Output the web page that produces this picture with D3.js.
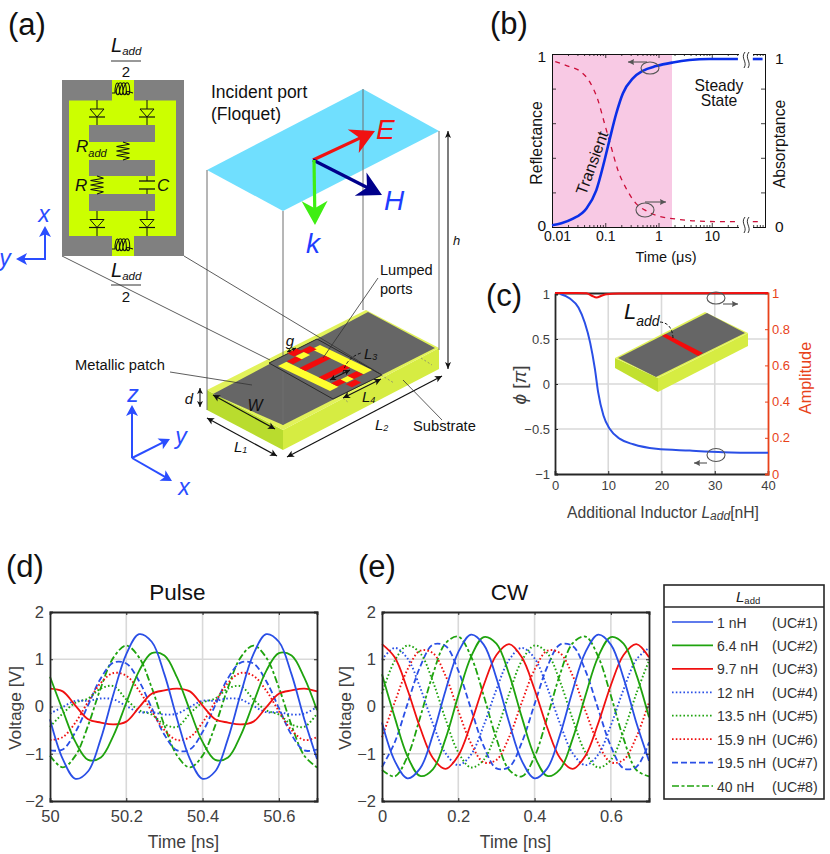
<!DOCTYPE html>
<html><head><meta charset="utf-8">
<script src="https://cdn.jsdelivr.net/npm/d3@7/dist/d3.min.js"></script>
<style>html,body{margin:0;padding:0;background:#fff}svg{display:block}text{font-family:"Liberation Sans",Arial,sans-serif}</style>
</head><body><svg id="c" width="830" height="854" viewBox="0 0 830 854"></svg>
<script>
// ---------- DATA ----------
const seriesNames=["1 nH","6.4 nH","9.7 nH","12 nH","13.5 nH","15.9 nH","19.5 nH","40 nH"];
const seriesCells=["(UC#1)","(UC#2)","(UC#3)","(UC#4)","(UC#5)","(UC#6)","(UC#7)","(UC#8)"];
const sampleIdx=[0,1,2,3,4,5,6,7,8,9,10,11,12,13,14,15,16,17,18,19,20,21]; // sample number, one per 1/30 ns
const pulse1=[-.27,-1.11,-1.53,-1.37,-.68,.27,1.11,1.53,1.37,.68,-.27,-1.11,-1.53,-1.37,-.68,.27,1.11,1.53,1.37,.68,-.27,-1.11];
const pulse2=[.63,-.08,-.75,-1.13,-1.08,-.61,.08,.75,1.13,1.08,.61,-.08,-.75,-1.13,-1.08,-.61,.08,.75,1.13,1.08,.61,-.08];
const pulse3=[.38,.32,.02,-.27,-.34,-.38,-.32,-.02,.27,.34,.38,.32,.02,-.27,-.34,-.38,-.32,-.02,.27,.34,.38,.32];
const pulse4=[-.15,-.01,.12,.12,.17,.15,.01,-.12,-.12,-.17,-.15,-.01,.12,.12,.17,.15,.01,-.12,-.12,-.17,-.15,-.01];
const pulse5=[-.43,-.15,.08,.17,.38,.43,.15,-.08,-.17,-.38,-.43,-.15,.08,.17,.38,.43,.15,-.08,-.17,-.38,-.43,-.15];
const pulse6=[-.71,-.65,-.34,.10,.50,.71,.65,.34,-.10,-.50,-.71,-.65,-.34,.10,.50,.71,.65,.34,-.10,-.50,-.71,-.65];
const pulse7=[-.93,-.91,-.54,.03,.60,.93,.91,.54,-.03,-.60,-.93,-.91,-.54,.03,.60,.93,.91,.54,-.03,-.60,-.93,-.91];
const pulse8=[-1.04,-1.29,-1.04,-.40,.40,1.04,1.29,1.04,.40,-.40,-1.04,-1.29,-1.04,-.40,.40,1.04,1.29,1.04,.40,-.40,-1.04,-1.29];
const cw1=[-.34,-1.15,-1.52,-1.31,-.60,.34,1.15,1.52,1.31,.60,-.34,-1.15,-1.52,-1.31,-.60,.34,1.15,1.52,1.31,.60,-.34,-1.15];
const cw2=[.68,-.23,-1.05,-1.47,-1.33,-.68,.23,1.05,1.47,1.33,.68,-.23,-1.05,-1.47,-1.33,-.68,.23,1.05,1.47,1.33,.68,-.23];
const cw3=[1.32,1.04,.36,-.45,-1.09,-1.32,-1.04,-.36,.45,1.09,1.32,1.04,.36,-.45,-1.09,-1.32,-1.04,-.36,.45,1.09,1.32,1.04];
const cw4=[.99,1.24,1.02,.40,-.36,-.99,-1.24,-1.02,-.40,.36,.99,1.24,1.02,.40,-.36,-.99,-1.24,-1.02,-.40,.36,.99,1.24];
const cw5=[.27,.97,1.29,1.13,.53,-.27,-.97,-1.29,-1.13,-.53,.27,.97,1.29,1.13,.53,-.27,-.97,-1.29,-1.13,-.53,.27,.97];
const cw6=[-.65,.09,.78,1.18,1.13,.65,-.09,-.78,-1.18,-1.13,-.65,.09,.78,1.18,1.13,.65,-.09,-.78,-1.18,-1.13,-.65,.09];
const cw7=[-1.28,-.76,.05,.84,1.31,1.28,.76,-.05,-.84,-1.31,-1.28,-.76,.05,.84,1.31,1.28,.76,-.05,-.84,-1.31,-1.28,-.76];
const cw8=[-1.34,-1.48,-1.06,-.23,.68,1.34,1.48,1.06,.23,-.68,-1.34,-1.48,-1.06,-.23,.68,1.34,1.48,1.06,.23,-.68,-1.34,-1.48];
const pulseSeries=[pulse1,pulse2,pulse3,pulse4,pulse5,pulse6,pulse7,pulse8];
const cwSeries=[cw1,cw2,cw3,cw4,cw5,cw6,cw7,cw8];
const seriesColors=["#2a4fe6","#1fa30e","#f01010","#2a4fe6","#1fa30e","#f01010","#2a4fe6","#1fa30e"];
const seriesDash=[null,null,null,"1.6 2.2","1.6 2.2","1.6 2.2","6 3","7 2.5 3 2.5"];

const phaseL=[1,2.8,4.4,5.6,6.6,7.5,8.1,9.1,10.3,12.2,14.7,19,25.3,31.6,40];
const phaseV=[1,.95,.85,.68,.46,.165,-.09,-.35,-.5,-.61,-.67,-.72,-.74,-.757,-.765];
const ampL=[0,4,5.9,6.9,7.8,8.75,9.7,12,20,40];
const ampV=[1,1,.998,.985,.975,.985,.993,.997,.999,1];

const reflT=[.01,.015,.0248,.044,.0678,.097,.12,.161,.214,.33,.508,.9,1.86,3.8,9,31];
const reflV=[.01,.022,.048,.106,.212,.386,.502,.656,.772,.859,.903,.93,.951,.965,.971,.971];
const absT=[.0115,.0214,.033,.0508,.0728,.097,.129,.173,.248,.38,.59,1.04,2.14,5.1,16,31];
const absV=[.956,.927,.903,.84,.734,.598,.463,.328,.222,.135,.093,.062,.046,.035,.031,.031];
const steadyT=[59,90];
const steadyRefl=[.971,.971];
const steadyAbs=[.031,.031];

const svg=d3.select("#c");
const FF='"Liberation Sans",Arial,sans-serif';
function txt(x,y,s,o={}){
  const t=svg.append("text").attr("x",x).attr("y",y).attr("font-size",o.size||14).attr("fill",o.fill||"#111")
    .attr("text-anchor",o.anchor||"start").attr("dominant-baseline",o.base||"central").text(s);
  if(o.italic)t.attr("font-style","italic");
  if(o.rot!=null)t.attr("transform",`rotate(${o.rot} ${x} ${y})`);
  return t;
}
function sub(x,y,main,s,o={}){ // italic letter with subscript
  const t=svg.append("text").attr("x",x).attr("y",y).attr("font-size",o.size||15).attr("fill",o.fill||"#111").attr("font-style","italic").attr("dominant-baseline","central");
  t.append("tspan").text(main);
  t.append("tspan").attr("dy",o.dy||4).attr("font-size",o.ssize||10).text(s);
  return t;
}
function poly(pts,fill,o={}){
  return svg.append("polygon").attr("points",pts.map(p=>p.join(",")).join(" ")).attr("fill",fill).attr("stroke",o.stroke||"none").attr("stroke-width",o.sw||0);
}
function seg(a,b,c,w,dash){
  const l=svg.append("line").attr("x1",a[0]).attr("y1",a[1]).attr("x2",b[0]).attr("y2",b[1]).attr("stroke",c).attr("stroke-width",w);
  if(dash)l.attr("stroke-dasharray",dash);return l;
}
function arrowHead(tip,from,c,len,wid,notch=.25){
  const dx=tip[0]-from[0],dy=tip[1]-from[1],d=Math.hypot(dx,dy),ux=dx/d,uy=dy/d;
  const bx=tip[0]-ux*len,by=tip[1]-uy*len;
  poly([tip,[bx-uy*wid/2,by+ux*wid/2],[tip[0]-ux*len*(1-notch),tip[1]-uy*len*(1-notch)],[bx+uy*wid/2,by-ux*wid/2]],c);
}
function arrow(a,b,c,w,len,wid,notch){
  const dx=b[0]-a[0],dy=b[1]-a[1],d=Math.hypot(dx,dy);
  seg(a,[b[0]-dx/d*len*.6,b[1]-dy/d*len*.6],c,w);
  arrowHead(b,a,c,len,wid,notch);
}
function dbl(a,b,c="#111",w=1.2,len=7,wid=7){
  seg(a,b,c,w);arrowHead(a,b,c,len,wid);arrowHead(b,a,c,len,wid);
}
function pth(d,c,w,fill="none"){return svg.append("path").attr("d",d).attr("stroke",c).attr("stroke-width",w).attr("fill",fill);}

// ---------- PANEL (a) ----------
txt(8,24,"(a)",{size:31});txt(490,23,"(b)",{size:31});txt(486,295,"(c)",{size:31});txt(6,566,"(d)",{size:31});txt(358,566,"(e)",{size:31});

// Floquet port plane
const vLines=[[207,170,410],[283,211,425],[363,89,310],[439,131,350]];
poly([[207,170],[363,89],[439,131],[283,211]],"#70dffe");
// substrate
poly([[207,390],[283,430],[283,450],[207,410]],"#b9dc2e");
poly([[283,430],[439,348],[439,369],[283,450]],"#d6ec42");
poly([[207,390],[366,310],[439,348],[283,430]],"#e2f25a");
poly([[213,394],[368,312],[435,348],[283,425]],"#666666");
vLines.forEach(v=>seg([v[0],v[1]],[v[0],v[2]],"#6e6e6e",1));

// slot region with unit-cell detail
const P=(u,v)=>[278+42*u+52*v,366-21*u+25*v];
const R=(u0,u1,v0,v1,f)=>poly([P(u0,v0),P(u1,v0),P(u1,v1),P(u0,v1)],f);
poly([[269,363],[317,339],[382,375],[333,399]],"#666",{stroke:"#2a2a2a",sw:1});
R(0,1,0,1,"#ffff2e");
R(.2,.8,-.02,1.02,"#666");
[[.25,.37],[.62,.74]].forEach(b=>R(.2,.8,b[0],b[1],"#f40b0b"));
[[.42,.64,-.16,-.03,"#f40b0b"],[.62,.86,-.08,.05,"#f40b0b"],[.22,.46,-.01,.11,"#f40b0b"],[.44,.64,-.02,.1,"#ffff2e"],
 [.2,.42,.86,.98,"#f40b0b"],[.4,.58,.88,1,"#ffff2e"],[.35,.57,1.02,1.14,"#f40b0b"],[.57,.79,.87,1,"#f40b0b"]]
 .forEach(r=>R(r[0],r[1],r[2],r[3],r[4]));

// arrows above
arrow([313,160],[375,131],"#f01212",3.2,24,26,.3);
arrow([313,160],[382,195],"#00008b",3.2,24,26,.3);
arrow([314,160],[315,225],"#3fee12",3.2,24,26,.3);
txt(376,129,"E",{size:28,italic:true,fill:"#f01212"});
txt(384,200,"H",{size:28,italic:true,fill:"#1f3dff"});
txt(306,243,"k",{size:28,italic:true,fill:"#1f3dff"});
txt(211,92,"Incident port",{size:17.5});txt(211,114,"(Floquet)",{size:17.5});

// connection lines
seg([62,256],[270,360],"#333",.8);seg([184,256],[382,375],"#333",.8);

// schematic
svg.append("rect").attr("x",62).attr("y",80).attr("width",122).attr("height",176).attr("fill","#808080");
svg.append("rect").attr("x",69).attr("y",100.5).attr("width",107).attr("height",135.5).attr("fill","#ccff00");
svg.append("rect").attr("x",112).attr("y",80).attr("width",22).attr("height",21).attr("fill","#ccff00");
svg.append("rect").attr("x",112).attr("y",235).attr("width",22).attr("height",21).attr("fill","#ccff00");
[[125,142],[160,176],[194,211]].forEach(b=>svg.append("rect").attr("x",89).attr("y",b[0]).attr("width",66).attr("height",b[1]-b[0]).attr("fill","#808080"));
function diode(x,y0,y1,tt){ // vertical wire with diode pointing down
  seg([x,y0],[x,y1],"#111",1);
  pth(`M${x-7},${tt}L${x+7},${tt}L${x},${tt+8}Z`,"#111",1,"#ccff00");
  seg([x-8,tt+8],[x+8,tt+8],"#111",1.2);
}
diode(97,100,125,109);diode(147,100,125,109);diode(97,211,236,219.5);diode(147,211,236,219.5);
function inductor(y){
  let d=`M112,${y+3}L115,${y+3}`;
  for(let i=0;i<4;i++){const x=115+i*3.4;d+=`C${x},${y-10} ${x+4.5},${y-10} ${x+4.5},${y+1}C${x+4.5},${y+6} ${x+1.2},${y+6} ${x+1.2},${y+1}`;}
  d+=`L133,${y+3}`;pth(d,"#111",1.1);
}
inductor(90);inductor(246);
function zig(x,y0,y1,w){
  const n=8,h=(y1-y0)/n;let d=`M${x},${y0}`;
  for(let i=1;i<n;i++)d+=`L${x+(i%2?w:-w)},${y0+i*h}`;
  d+=`L${x},${y1}`;pth(d,"#111",1.1);
}
zig(123,142,160,6.5);zig(97,176,194,6.5);
seg([147,176],[147,181],"#111",1);seg([147,189],[147,194],"#111",1);
seg([139,181],[155,181],"#111",1.3);seg([139,189],[155,189],"#111",1.3);
sub(76,146,"R","add",{size:17,ssize:11,dy:7});
txt(75,185,"R",{size:17,italic:true});txt(157,185,"C",{size:17,italic:true});
function frac(yL,yBar,y2){
  sub(111,yL,"L","add",{size:20,ssize:11.5,dy:6});seg([111,yBar],[141,yBar],"#333",1);txt(126,y2,"2",{size:15,anchor:"middle"});
}
frac(45,61,71);frac(270,285,296);

// axes triads
const triad="#2a4dff";
arrow([45,259],[45,226],triad,2,11,12,.25);arrow([46,259],[16,259],triad,2,11,12,.25);
txt(44,214,"x",{size:23,italic:true,fill:triad,anchor:"middle"});txt(5,258,"y",{size:23,italic:true,fill:triad,anchor:"middle"});
arrow([132,458],[132,405],triad,2,11,12,.25);arrow([132,458],[170,439],triad,2,11,12,.25);arrow([132,458],[172,481],triad,2,11,12,.25);
txt(133,394,"z",{size:23,italic:true,fill:triad,anchor:"middle"});txt(181,436,"y",{size:23,italic:true,fill:triad,anchor:"middle"});txt(184,487,"x",{size:23,italic:true,fill:triad,anchor:"middle"});

// dimensions
dbl([448,131],[448,369],"#111",1.1,7,6);txt(453,240,"h",{size:13,italic:true});
dbl([200,388],[200,407],"#111",1.1,6,6);txt(189,398,"d",{size:15,italic:true,anchor:"middle"});
dbl([213,395],[275,429],"#111",1.2);txt(255,405,"W",{size:16,italic:true,anchor:"middle"});
dbl([207,418],[277,456],"#111",1.2);sub(234,446,"L","1",{size:15,ssize:9});
dbl([287,457],[442,376],"#111",1.2);sub(375,424,"L","2",{size:15,ssize:9});
dbl([343,398],[381,379],"#111",1.2);sub(362,396,"L","4",{size:15,ssize:9});
dbl([330,380],[350,370],"#111",1.2,6,6);sub(364,353,"L","3",{size:15,ssize:9});
pth("M343,373Q346,358 361,353","#111",1).attr("stroke-dasharray","3 2");
dbl([287,352],[296,348],"#111",1,4,4);txt(290,340,"g",{size:15,italic:true,anchor:"middle"});
seg([343,398],[349,403],"#777",.7,"2 2");seg([381,375],[394,383],"#777",.7,"2 2");
seg([421,358],[432,365],"#777",.7,"2 2");
// callouts
txt(75,365,"Metallic patch",{size:14.7});seg([170,372],[252,385],"#333",.8);
txt(413,426,"Substrate",{size:14.7});seg([403,380],[442,420],"#333",.8);
txt(380,270,"Lumped",{size:14.6});txt(380,289,"ports",{size:14.6});seg([378,278],[323,358],"#333",.8);

// ---------- PANEL (b) ----------
const bx=d3.scaleLog().domain([.01,100]).range([552,765]);
const by=d3.scaleLinear().domain([0,1]).range([227,54]);
svg.append("rect").attr("x",bx(.01)).attr("y",54).attr("width",672-552).attr("height",173).attr("fill","#f8c9e4");
const lineB=d3.line().x(d=>bx(d[0])).y(d=>by(d[1])).curve(d3.curveMonotoneX);
function blackAxis(g){g.selectAll(".domain").attr("stroke","#111").attr("stroke-width",1);g.selectAll(".tick line").attr("stroke","#111").attr("stroke-width",.8);g.selectAll("text").attr("font-family",FF);}
const decades=[.01,.1,1,10];
const minorB=[.02,.03,.04,.05,.06,.07,.08,.09,.2,.3,.4,.5,.6,.7,.8,.9,2,3,4,5,6,7,8,9,20,30,40,50,60,70,80,90];
const fmtB=d=>d>=1?d3.format("d")(d):String(d);
svg.append("g").attr("transform","translate(0,227)").call(d3.axisBottom(bx).tickValues(decades).tickSize(-4).tickPadding(4).tickFormat(fmtB)).call(blackAxis)
  .call(g=>g.selectAll("text").attr("font-size",14).attr("fill","#111").attr("dx",d=>d===.01?5:0));
svg.append("g").attr("transform","translate(0,227)").call(d3.axisBottom(bx).tickValues(minorB).tickSize(-2).tickFormat("")).call(blackAxis);
svg.append("g").attr("transform","translate(0,54)").call(d3.axisTop(bx).tickValues(decades).tickSize(-4).tickFormat("")).call(blackAxis);
svg.append("g").attr("transform","translate(0,54)").call(d3.axisTop(bx).tickValues(minorB).tickSize(-2).tickFormat("")).call(blackAxis);
const yt=[0,.2,.4,.6,.8,1],fmtEnds=d=>(d===0||d===1)?String(d):"";
svg.append("g").attr("transform","translate(552,0)").call(d3.axisLeft(by).tickValues(yt).tickSize(-4).tickPadding(6).tickFormat(fmtEnds)).call(blackAxis)
  .call(g=>g.selectAll("text").attr("font-size",15.5).attr("fill","#111").attr("y",d=>d===1?3:-1));
svg.append("g").attr("transform","translate(765,0)").call(d3.axisRight(by).tickValues(yt).tickSize(-4).tickPadding(10).tickFormat(fmtEnds)).call(blackAxis)
  .call(g=>g.selectAll("text").attr("font-size",15.5).attr("fill","#111").attr("y",d=>d===1?5:0));
svg.append("path").attr("d",lineB(absT.map((t,i)=>[t,absV[i]]))).attr("fill","none").attr("stroke","#cc0f3a").attr("stroke-width",1.3).attr("stroke-dasharray","5 5");
svg.append("path").attr("d",lineB(reflT.map((t,i)=>[t,reflV[i]]))).attr("fill","none").attr("stroke","#0b2fe8").attr("stroke-width",2.6);
// axis break
svg.append("rect").attr("x",739).attr("y",50).attr("width",14).attr("height",12).attr("fill","#fff");
svg.append("rect").attr("x",739).attr("y",217).attr("width",14).attr("height",14).attr("fill","#fff");
svg.append("path").attr("d",lineB(steadyT.map((t,i)=>[t,steadyRefl[i]]))).attr("fill","none").attr("stroke","#0b2fe8").attr("stroke-width",2.6);
svg.append("path").attr("d",lineB(steadyT.map((t,i)=>[t,steadyAbs[i]]))).attr("fill","none").attr("stroke","#cc0f3a").attr("stroke-width",1.3).attr("stroke-dasharray","5 5");
[[743,52],[747,52],[743,217],[747,217]].forEach(p=>pth(`M${p[0]+2},${p[1]}C${p[0]-3},${p[1]+6} ${p[0]+5},${p[1]+10} ${p[0]+1},${p[1]+16}`,"#333",1));
txt(666,257,"Time (μs)",{size:14.5,anchor:"middle"});
txt(536,143,"Reflectance",{size:15.8,anchor:"middle",rot:-90});
txt(779,144,"Absorptance",{size:15.8,anchor:"middle",rot:-90});
txt(592,163,"Transient",{size:16,anchor:"middle",rot:-70});
txt(719,85,"Steady",{size:15.7,anchor:"middle"});txt(719,100,"State",{size:15.7,anchor:"middle"});
function hoop(cx,cy,rx,ry,a,b){
  svg.append("ellipse").attr("cx",cx).attr("cy",cy).attr("rx",rx).attr("ry",ry).attr("fill","none").attr("stroke","#555").attr("stroke-width",1.1);
  seg(a,b,"#555",1.1);arrowHead(b,a,"#555",6,6,.1);
}
hoop(650,68,9,6,[647,62],[628,62]);hoop(645,210,9,7,[645,202],[666,202]);

// ---------- PANEL (c) ----------
const cx=d3.scaleLinear().domain([0,40]).range([555,768]);
const cy=d3.scaleLinear().domain([-1,1]).range([474,294]);
const cyR=d3.scaleLinear().domain([0,1]).range([474,293]);
const gridC="#d9d9d9",darkText="#404040",redAxis="#e8421a";
[10,20,30].forEach(v=>seg([cx(v),293],[cx(v),474],gridC,1.6));
[-.5,0,.5].forEach(v=>seg([555,cy(v)],[768,cy(v)],gridC,1.6));
function styleAx(g,c,size){g.selectAll(".domain").attr("stroke",c).attr("stroke-width",1.8);g.selectAll(".tick line").attr("stroke",c).attr("stroke-width",1);g.selectAll("text").attr("font-family",FF).attr("font-size",size).attr("fill",c===redAxis?redAxis:darkText);}
svg.append("g").attr("transform","translate(0,474)").call(d3.axisBottom(cx).tickValues([0,10,20,30,40]).tickSize(-3).tickPadding(7).tickFormat(d3.format("d"))).call(g=>styleAx(g,"#262626",13));
svg.append("g").attr("transform","translate(0,293)").call(d3.axisTop(cx).tickValues([0,10,20,30,40]).tickSize(0).tickFormat("")).call(g=>styleAx(g,"#262626",12));
svg.append("g").attr("transform","translate(555,0)").call(d3.axisLeft(cy).tickValues([-1,-.5,0,.5,1]).tickSize(-3).tickPadding(5).tickFormat(d3.format("~g"))).call(g=>styleAx(g,"#262626",13));
svg.append("g").attr("transform","translate(768,0)").call(d3.axisRight(cyR).tickValues([0,.2,.4,.6,.8,1]).tickSize(-3).tickPadding(4).tickFormat(d3.format("~g"))).call(g=>styleAx(g,redAxis,13));
svg.append("path").attr("d",d3.line().x(d=>cx(d[0])).y(d=>cy(d[1])).curve(d3.curveMonotoneX)(phaseL.map((l,i)=>[l,phaseV[i]]))).attr("fill","none").attr("stroke","#2a4fe6").attr("stroke-width",2);
svg.append("path").attr("d",d3.line().x(d=>cx(d[0])).y(d=>cyR(d[1])).curve(d3.curveMonotoneX)(ampL.map((l,i)=>[l,ampV[i]]))).attr("fill","none").attr("stroke","#f01010").attr("stroke-width",2);
hoop(716,298,9,6,[723,304],[738,304]);hoop(716,455,9,6.5,[707,463],[694,463]);
// inset
poly([[615,358],[658,378],[658,392],[615,368]],"#c2e02f");
poly([[658,378],[748,333],[748,346],[658,392]],"#d6ec42");
poly([[615,358],[705,312],[748,333],[658,378]],"#e2f25a");
poly([[618,358],[707,313],[745,333],[656,377]],"#666");
poly([[662,336],[666,334],[703,353],[698,356]],"#f40b0b");
sub(624,311,"L","add",{size:22,ssize:14,dy:10});
pth("M660,322Q672,323 673,338","#111",1).attr("stroke-dasharray","3 2");
const xl=svg.append("text").attr("x",663).attr("y",512).attr("text-anchor","middle").attr("font-size",15.7).attr("fill",darkText).attr("dominant-baseline","central");
xl.append("tspan").text("Additional Inductor  ");xl.append("tspan").attr("font-style","italic").text("L");
xl.append("tspan").attr("font-style","italic").attr("font-size",12).attr("dy",4).text("add");xl.append("tspan").attr("dy",-4).text("[nH]");
const yl=svg.append("text").attr("transform","translate(519,385) rotate(-90)").attr("text-anchor","middle").attr("font-size",19).attr("fill",darkText).attr("dominant-baseline","central");
yl.append("tspan").attr("font-style","italic").text("ϕ");yl.append("tspan").text(" [");yl.append("tspan").attr("font-style","italic").text("π");yl.append("tspan").text("]");
txt(805,378,"Amplitude",{size:16.3,fill:redAxis,anchor:"middle",rot:-90});

// ---------- PANELS (d) and (e) ----------
function wavePanel(left,right,domain,ticks,fmt,series,title,tmap,ylx){
  const x=d3.scaleLinear().domain(domain).range([left,right]);
  const y=d3.scaleLinear().domain([-2,2]).range([801,612]);
  ticks.slice(1).forEach(v=>seg([x(v),612],[x(v),801],gridC,1.6));
  [-1,0,1].forEach(v=>seg([left,y(v)],[right,y(v)],gridC,1.6));
  const line=d3.line().x(d=>x(d[0])).y(d=>y(d[1])).curve(d3.curveCatmullRom.alpha(.5));
  const order=[7,6,5,4,3,2,1,0];
  order.forEach(i=>{
    const p=svg.append("path").attr("d",line(sampleIdx.map((k,j)=>[tmap(k),series[i][j]]))).attr("fill","none").attr("stroke",seriesColors[i]).attr("stroke-width",seriesDash[i]&&seriesDash[i][0]==="1"?1.9:1.8);
    if(seriesDash[i])p.attr("stroke-dasharray",seriesDash[i]);
  });
  svg.append("g").attr("transform","translate(0,801)").call(d3.axisBottom(x).tickValues(ticks).tickSize(-3).tickPadding(9).tickFormat(fmt)).call(g=>styleAx(g,"#262626",16.5));
  svg.append("g").attr("transform","translate(0,612)").call(d3.axisTop(x).tickValues(ticks).tickSize(-3).tickFormat("")).call(g=>styleAx(g,"#262626",12));
  svg.append("g").attr("transform",`translate(${left},0)`).call(d3.axisLeft(y).tickValues([-2,-1,0,1,2]).tickSize(-3).tickPadding(6).tickFormat(d3.format("d"))).call(g=>styleAx(g,"#262626",16.5));
  svg.append("g").attr("transform",`translate(${right},0)`).call(d3.axisRight(y).tickValues([-2,-1,0,1,2]).tickSize(-3).tickFormat("")).call(g=>styleAx(g,"#262626",12));
  txt((left+right)/2-6,592,title,{size:22.5,anchor:"middle"});
  txt((left+right)/2,842,"Time [ns]",{size:17.5,anchor:"middle",fill:darkText});
  txt(ylx,708,"Voltage [V]",{size:17.4,anchor:"middle",fill:darkText,rot:-90});
}
wavePanel(50,317,[50,50.7],[50,50.2,50.4,50.6],d3.format("~g"),pulseSeries,"Pulse",k=>50+k/30,15);
wavePanel(382,649,[0,.7],[0,.2,.4,.6],d3.format("~g"),cwSeries,"CW",k=>k/30,345);

// ---------- LEGEND ----------
svg.append("rect").attr("x",664).attr("y",585).attr("width",160).attr("height",214).attr("fill","#fff").attr("stroke","#262626").attr("stroke-width",1.6);
seg([664,607],[824,607],"#262626",1.6);
const lt=svg.append("text").attr("x",736).attr("y",596).attr("font-size",15).attr("fill","#222").attr("dominant-baseline","central");
lt.append("tspan").attr("font-style","italic").text("L");lt.append("tspan").attr("font-size",9.5).attr("dy",4).text("add");
const rowY=d3.scaleLinear().domain([0,7]).range([622,786]);
seriesNames.forEach((n,i)=>{
  seg([672,rowY(i)],[713,rowY(i)],seriesColors[i],1.7,seriesDash[i]);
  txt(717,rowY(i)+.5,n,{size:14,fill:"#333"});
  txt(772,rowY(i)+.5,seriesCells[i],{size:14.2,fill:"#333"});
});
</script></body></html>
